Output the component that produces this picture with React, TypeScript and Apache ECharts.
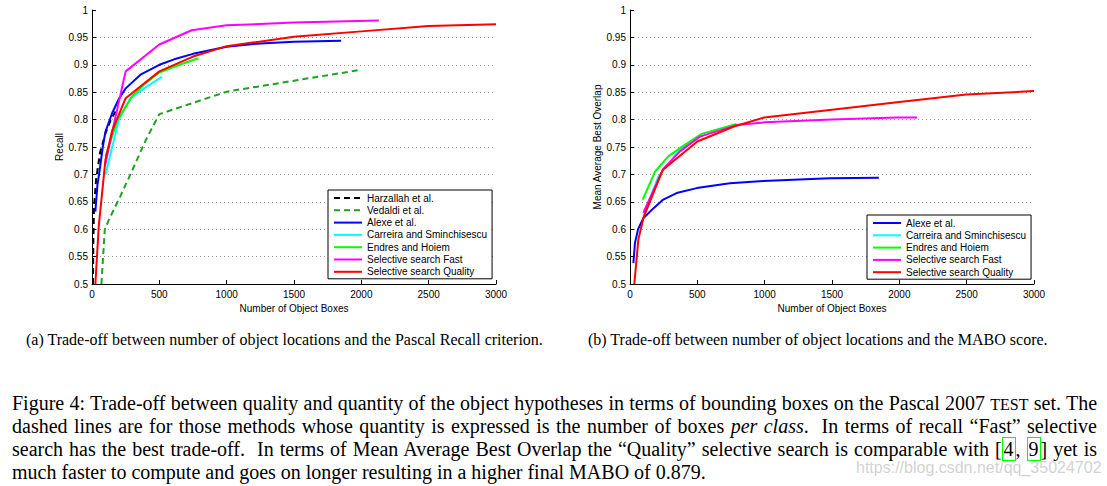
import React, { useEffect, useRef } from "react";
import * as echarts from "echarts";

// ---------- data ----------
const X_TICKS = [0, 500, 1000, 1500, 2000, 2500, 3000];
const Y_TICKS = [0.5, 0.55, 0.6, 0.65, 0.7, 0.75, 0.8, 0.85, 0.9, 0.95, 1];

const NAMES = [
  "Harzallah et al.",
  "Vedaldi et al.",
  "Alexe et al.",
  "Carreira and Sminchisescu",
  "Endres and Hoiem",
  "Selective search Fast",
  "Selective search Quality",
];

// (a) Recall
const recallHarzallah = [[7, 0.5], [10, 0.58], [15, 0.64], [30, 0.69], [60, 0.74], [100, 0.775], [140, 0.8], [175, 0.815]];
const recallVedaldi = [[70, 0.5], [85, 0.56], [95, 0.6], [125, 0.617], [210, 0.66], [300, 0.708], [400, 0.763], [500, 0.81], [1000, 0.851], [1500, 0.871], [2000, 0.891]];
const recallAlexe = [[25, 0.632], [40, 0.68], [57, 0.708], [80, 0.75], [100, 0.778], [150, 0.812], [200, 0.838], [250, 0.857], [360, 0.882], [500, 0.9], [610, 0.91], [750, 0.92], [1000, 0.933], [1250, 0.939], [1500, 0.942], [1850, 0.944]];
const recallCarreira = [[100, 0.7], [150, 0.75], [200, 0.8], [285, 0.839], [385, 0.857], [520, 0.878]];
const recallEndres = [[100, 0.733], [190, 0.8], [300, 0.843], [400, 0.867], [500, 0.886], [650, 0.9], [790, 0.912]];
const recallFast = [[100, 0.72], [170, 0.8], [250, 0.888], [500, 0.937], [740, 0.963], [1000, 0.972], [1500, 0.977], [2130, 0.981]];
const recallQuality = [[25, 0.5], [50, 0.605], [100, 0.727], [150, 0.78], [250, 0.839], [500, 0.888], [750, 0.915], [1000, 0.934], [1500, 0.951], [2000, 0.961], [2500, 0.971], [3000, 0.974]];

// (b) MABO
const maboAlexe = [[25, 0.538], [37, 0.575], [60, 0.6], [99, 0.62], [173, 0.638], [247, 0.654], [346, 0.666], [495, 0.675], [742, 0.684], [989, 0.688], [1484, 0.693], [1848, 0.694]];
const maboCarreira = [[99, 0.623], [210, 0.696], [371, 0.745], [520, 0.77]];
const maboEndres = [[94, 0.654], [186, 0.705], [284, 0.733], [371, 0.748], [532, 0.774], [791, 0.792]];
const maboFast = [[99, 0.63], [247, 0.71], [371, 0.742], [519, 0.769], [791, 0.79], [1000, 0.795], [1500, 0.8], [1979, 0.804], [2132, 0.804]];
const maboQuality = [[32, 0.5], [62, 0.581], [99, 0.62], [242, 0.708], [500, 0.76], [767, 0.787], [997, 0.804], [1500, 0.818], [2000, 0.832], [2498, 0.846], [3000, 0.852]];

const CAPTION_A = "(a) Trade-off between number of object locations and the Pascal Recall criterion.";
const CAPTION_B = "(b) Trade-off between number of object locations and the MABO score.";
const WATERMARK = "https://blog.csdn.net/qq_35024702";

// ---------- styles ----------
const SANS = "'Liberation Sans', Arial, Helvetica, sans-serif";
const SERIF = "'Liberation Serif', 'Times New Roman', serif";

const STYLE: Record<string, { color: string; type: any }> = {
  "Harzallah et al.": { color: "#000000", type: [6, 4] },
  "Vedaldi et al.": { color: "#22a022", type: [6, 4] },
  "Alexe et al.": { color: "#0000ff", type: "solid" },
  "Carreira and Sminchisescu": { color: "#00ffff", type: "solid" },
  "Endres and Hoiem": { color: "#00ff00", type: "solid" },
  "Selective search Fast": { color: "#ff00ff", type: "solid" },
  "Selective search Quality": { color: "#ff0000", type: "solid" },
};

function xAxis(gridIndex: number) {
  return {
    type: "value",
    gridIndex,
    min: X_TICKS[0],
    max: X_TICKS[X_TICKS.length - 1],
    interval: X_TICKS[1] - X_TICKS[0],
    name: "Number of Object Boxes",
    nameLocation: "middle",
    nameGap: 13,
    nameTextStyle: { fontSize: 10, color: "#000", fontFamily: SANS },
    axisLine: { show: true, onZero: false, lineStyle: { color: "#000", width: 1 } },
    axisTick: { show: true, inside: true, length: 4, lineStyle: { color: "#000" } },
    axisLabel: { fontSize: 10, color: "#000", margin: 5, fontFamily: SANS, formatter: (v: number) => String(v) },
    splitLine: { show: false },
  };
}

function yAxis(gridIndex: number, name: string) {
  return {
    type: "value",
    gridIndex,
    min: Y_TICKS[0],
    max: Y_TICKS[Y_TICKS.length - 1],
    interval: 0.05,
    name,
    nameLocation: "middle",
    nameGap: 28,
    nameTextStyle: { fontSize: 10, color: "#000", fontFamily: SANS },
    axisLine: { show: true, onZero: false, lineStyle: { color: "#000", width: 1 } },
    axisTick: { show: true, inside: true, length: 4, lineStyle: { color: "#000" } },
    axisLabel: {
      fontSize: 10,
      color: "#000",
      margin: 4,
      fontFamily: SANS,
      formatter: (v: number) => String(parseFloat(v.toFixed(2))),
    },
    splitLine: { show: true, showMaxLine: false, lineStyle: { color: "#9a9a9a", width: 1, type: [1, 3] } },
  };
}

function line(name: string, data: number[][], idx: number) {
  const s = STYLE[name];
  return {
    type: "line",
    name,
    data,
    xAxisIndex: idx,
    yAxisIndex: idx,
    symbol: "none",
    showSymbol: false,
    clip: true,
    lineStyle: { color: s.color, width: 2, type: s.type },
    itemStyle: { color: s.color },
  };
}

function legend(left: number, top: number, data: string[]) {
  return {
    left,
    top,
    orient: "vertical",
    data,
    selectedMode: false,
    itemWidth: 28,
    itemHeight: 10,
    itemGap: 2.3,
    padding: [3, 5, 2, 5],
    borderColor: "#000",
    borderWidth: 1,
    backgroundColor: "#fff",
    itemStyle: { opacity: 0 },
    textStyle: { fontSize: 10, color: "#000", fontFamily: SANS },
  };
}

const lineDiv: React.CSSProperties = {
  position: "absolute",
  left: 12,
  width: 1085,
  fontFamily: SERIF,
  fontSize: 20,
  lineHeight: "23px",
  color: "#000",
  whiteSpace: "nowrap",
};

const capDiv: React.CSSProperties = {
  position: "absolute",
  top: 331,
  fontFamily: SERIF,
  fontSize: 16,
  lineHeight: "18px",
  whiteSpace: "nowrap",
  color: "#000",
};

const box: React.CSSProperties = { border: "1px solid #00ff00", padding: "0 1px" };

export default function App() {
  const ref = useRef<HTMLDivElement>(null);

  useEffect(() => {
    if (!ref.current) return;
    const chart = echarts.init(ref.current, undefined, { renderer: "svg" });
    const rightNames = NAMES.slice(2);
    chart.setOption({
      animation: false,
      backgroundColor: "#fff",
      textStyle: { fontFamily: SANS },
      grid: [
        { left: 92, top: 10, width: 404, height: 274, containLabel: false },
        { left: 630, top: 10, width: 404, height: 274, containLabel: false },
      ],
      xAxis: [xAxis(0), xAxis(1)],
      yAxis: [yAxis(0, "Recall"), yAxis(1, "Mean Average Best Overlap")],
      legend: [legend(328, 190, NAMES), legend(867, 215, rightNames)],
      series: [
        line(NAMES[0], recallHarzallah, 0),
        line(NAMES[1], recallVedaldi, 0),
        line(NAMES[2], recallAlexe, 0),
        line(NAMES[3], recallCarreira, 0),
        line(NAMES[4], recallEndres, 0),
        line(NAMES[5], recallFast, 0),
        line(NAMES[6], recallQuality, 0),
        line(NAMES[2], maboAlexe, 1),
        line(NAMES[3], maboCarreira, 1),
        line(NAMES[4], maboEndres, 1),
        line(NAMES[5], maboFast, 1),
        line(NAMES[6], maboQuality, 1),
      ],
    });
    return () => chart.dispose();
  }, []);

  return (
    <div style={{ position: "absolute", left: 0, top: 0, width: 1107, height: 486, background: "#fff", overflow: "hidden" }}>
      <div ref={ref} style={{ position: "absolute", left: 0, top: 0, width: 1107, height: 320 }} />
      <div style={{ ...capDiv, left: 26 }}>{CAPTION_A}</div>
      <div style={{ ...capDiv, left: 588 }}>{CAPTION_B}</div>
      <div style={{ ...lineDiv, top: 392, textAlign: "justify", textAlignLast: "justify" }}>
        Figure 4: Trade-off between quality and quantity of the object hypotheses in terms of bounding boxes on the Pascal 2007{" "}
        <span style={{ fontSize: "0.8em" }}>TEST</span> set. The
      </div>
      <div style={{ ...lineDiv, top: 415, textAlign: "justify", textAlignLast: "justify" }}>
        dashed lines are for those methods whose quantity is expressed is the number of boxes <i>per class</i>.&nbsp; In terms of recall “Fast” selective
      </div>
      <div style={{ ...lineDiv, top: 438, textAlign: "justify", textAlignLast: "justify" }}>
        search has the best trade-off.&nbsp; In terms of Mean Average Best Overlap the “Quality” selective search is comparable with [<span style={box}>4</span>,{" "}
        <span style={box}>9</span>] yet is
      </div>
      <div style={{ ...lineDiv, top: 461, textAlign: "left" }}>
        much faster to compute and goes on longer resulting in a higher final MABO of 0.879.
      </div>
      <div style={{ position: "absolute", left: 856, top: 459, fontFamily: SANS, fontSize: 16, color: "rgba(190,190,190,0.7)", whiteSpace: "nowrap" }}>
        {WATERMARK}
      </div>
    </div>
  );
}
